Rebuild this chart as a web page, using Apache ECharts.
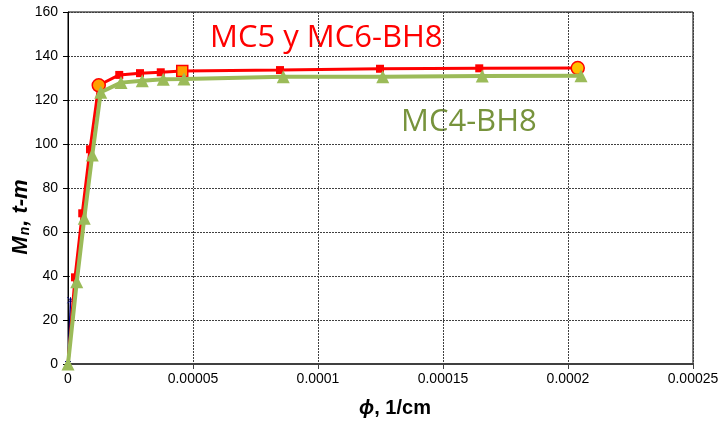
<!DOCTYPE html>
<html>
<head>
<meta charset="utf-8">
<script src="https://cdn.jsdelivr.net/npm/echarts@6/dist/echarts.min.js"></script>
<style>
  html, body { margin: 0; padding: 0; background: #fff; }
  #chart { width: 726px; height: 423px; }
</style>
</head>
<body>
<div id="chart"></div>
<script>
// curvature (1/cm) and moment (t-m)
var phiMC56 = [0, 0.0000028, 0.0000057, 0.0000088, 0.0000123, 0.0000205, 0.0000288, 0.0000371, 0.0000457, 0.0000848, 0.0001248, 0.0001645, 0.0002039];
var mnMC56 = [0, 39.4, 68.5, 97.6, 126.7, 131.4, 132.2, 132.6, 133.2, 133.6, 134.2, 134.4, 134.5];

var phiMC4 = [0, 0.0000035, 0.0000065, 0.0000097, 0.0000131, 0.0000212, 0.0000297, 0.0000381, 0.0000464, 0.0000861, 0.0001259, 0.0001657, 0.0002052];
var mnMC4 = [0, 37.4, 66.2, 95.0, 123.5, 127.9, 128.8, 129.4, 129.5, 130.6, 130.6, 130.9, 131.0];

var phiBlue = [0, 0.000001];
var mnBlue = [0, 29];

var xTickLabels = ['0', '0.00005', '0.0001', '0.00015', '0.0002', '0.00025'];
var yTickLabels = ['0', '20', '40', '60', '80', '100', '120', '140', '160'];

function pairs(xs, ys) {
  return xs.map(function (x, i) { return [x, ys[i]]; });
}

// special markers on the MC5/MC6 curve
var redData = pairs(phiMC56, mnMC56).map(function (p, i) {
  if (i === 0) return { value: p, symbolSize: 0 };
  if (i === 4) return { value: p, symbol: 'circle', symbolSize: 13, itemStyle: { color: '#FFA000', borderColor: '#FF0000', borderWidth: 1.5 } };
  if (i === 8) return { value: p, symbol: 'rect', symbolSize: 11, itemStyle: { color: '#FFA000', borderColor: '#FF0000', borderWidth: 1.5 } };
  if (i === phiMC56.length - 1) return { value: p, symbol: 'circle', symbolSize: 13, itemStyle: { color: '#FFC000', borderColor: '#FF0000', borderWidth: 1.5 } };
  return p;
});

var boldItalic = { fontFamily: 'Liberation Sans', fontWeight: 'bold', fontStyle: 'italic', fill: '#000' };

var chart = echarts.init(document.getElementById('chart'));
chart.setOption({
  animation: false,
  backgroundColor: '#fff',
  grid: {
    left: 68, right: 33, top: 12, bottom: 59,
    show: true, borderColor: '#000', borderWidth: 1
  },
  xAxis: {
    type: 'value',
    min: 0, max: 0.00025, interval: 0.00005,
    axisLine: { show: true, lineStyle: { color: '#404040', width: 2 } },
    axisTick: { show: true, length: 5, lineStyle: { color: '#404040' } },
    axisLabel: {
      fontFamily: 'Liberation Sans', fontSize: 14, color: '#000', margin: 8,
      formatter: function (v) { return xTickLabels[Math.round(v / 0.00005)]; }
    },
    splitLine: { show: true, lineStyle: { color: '#404040', type: [2, 1], width: 1 } }
  },
  yAxis: {
    type: 'value',
    min: 0, max: 160, interval: 20,
    axisLine: { show: true, lineStyle: { color: '#000', width: 1 } },
    axisTick: { show: true, length: 5, lineStyle: { color: '#000' } },
    axisLabel: {
      fontFamily: 'Liberation Sans', fontSize: 14, color: '#000', margin: 10,
      formatter: function (v) { return yTickLabels[Math.round(v / 20)]; }
    },
    splitLine: { show: true, lineStyle: { color: '#404040', type: [2, 1], width: 1 } }
  },
  graphic: [
    {
      type: 'text', x: 210, y: 38,
      style: { text: 'MC5 y MC6-BH8', fill: '#FF0000', font: '31px "Open Sans", sans-serif', verticalAlign: 'middle' }
    },
    {
      type: 'text', x: 401, y: 122,
      style: { text: 'MC4-BH8', fill: '#77933C', font: '31px "Open Sans", sans-serif', verticalAlign: 'middle' }
    },
    {
      // x axis title
      type: 'text', x: 395, y: 408,
      style: {
        text: '{i|ϕ}{b|, 1/cm}',
        align: 'center', verticalAlign: 'middle',
        rich: {
          i: { fontFamily: 'Liberation Sans', fontSize: 20, fontWeight: 'bold', fontStyle: 'italic', fill: '#000' },
          b: { fontFamily: 'Liberation Sans', fontSize: 20, fontWeight: 'bold', fill: '#000' }
        }
      }
    },
    {
      // y axis title
      type: 'text', x: 21, y: 217, rotation: Math.PI / 2,
      style: {
        text: '{m|M}{s|n}{b|, t-m}',
        align: 'center', verticalAlign: 'middle',
        rich: {
          m: Object.assign({ fontSize: 22 }, boldItalic),
          s: Object.assign({ fontSize: 14, padding: [9, 1, 0, 1] }, boldItalic),
          b: Object.assign({ fontSize: 22 }, boldItalic)
        }
      }
    }
  ],
  series: [
    {
      name: 'blue',
      type: 'line',
      data: pairs(phiBlue, mnBlue),
      symbol: 'path://M0,0L10,10M10,0L0,10M5,0L5,10',
      symbolSize: 6,
      lineStyle: { color: '#000080', width: 1.5 },
      itemStyle: { color: '#000080', borderColor: '#000080', borderWidth: 1 },
      z: 2
    },
    {
      name: 'MC5 y MC6-BH8',
      type: 'line',
      data: redData,
      symbol: 'rect',
      symbolSize: 8,
      lineStyle: { color: '#FF0000', width: 3 },
      itemStyle: { color: '#FF0000' },
      z: 3
    },
    {
      name: 'MC4-BH8',
      type: 'line',
      data: pairs(phiMC4, mnMC4),
      symbol: 'triangle',
      symbolSize: 13,
      lineStyle: { color: '#9BBB59', width: 4 },
      itemStyle: { color: '#9BBB59' },
      z: 4
    }
  ]
});
</script>
</body>
</html>
